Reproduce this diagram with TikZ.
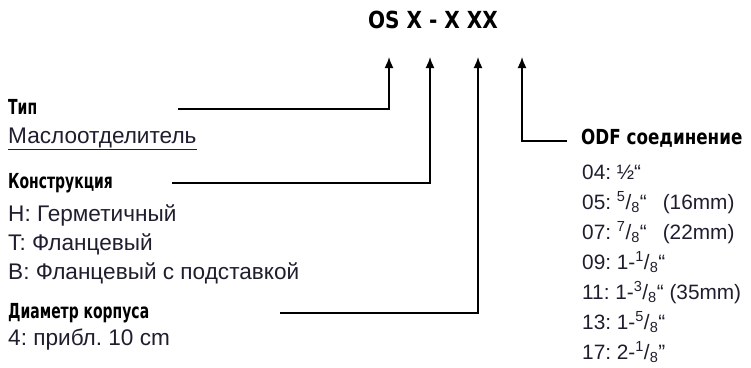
\documentclass[tikz,border=0pt]{standalone}
\usepackage{fontspec}
\setmainfont{Liberation Sans}
\newfontfamily\headfont[FakeStretch=0.75]{DejaVu Sans Condensed Bold}
\newfontfamily\headfontwide[FakeStretch=0.9]{DejaVu Sans Condensed Bold}
\newfontfamily\codefont[FakeStretch=0.95]{DejaVu Sans Condensed Bold}
\usetikzlibrary{arrows.meta}
\definecolor{txtcol}{HTML}{1E1E2E}
\tikzset{
  head/.style={anchor=base west, inner sep=0pt, font=\headfont\fontsize{20.7}{20.7}\selectfont},
  item/.style={anchor=base west, inner sep=0pt, text=txtcol, font=\fontsize{22.6}{22.6}\selectfont},
  itemr/.style={item, font=\fontsize{20.8}{20.8}\selectfont},
  lead/.style={line width=1.6pt},
}
\frenchspacing
\begin{document}
\begin{tikzpicture}[x=1pt, y=-1pt, >={Latex[length=11pt,width=9pt]}]
        \useasboundingbox (0,0) rectangle (751,367);
        % 1. Kod
        \node[anchor=base, inner sep=0pt, font=\codefont\fontsize{23.5}{23.5}\selectfont] (code) at (433,28) {OS X - X XX};
        \coordinate (p1) at (389,57);
        \coordinate (p2) at (430,57);
        \coordinate (p3) at (478,57);
        \coordinate (p4) at (522,57);

        % 2. Tip
        \node[head] (typ) at (8,114) {Тип};
        \node[item] (typval) at (8,143) {\underline{Маслоотделитель}};
        \coordinate (l1) at (178,109);
        \draw[lead, ->] (l1) -| (p1);

        % 3. Konstrukcija
        \node[head] (kon) at (8,188) {Конструкция};
        \node[item] (kon1) at (8,221) {H: Герметичный};
        \node[item] (kon2) at (8,250) {T: Фланцевый};
        \node[item] (kon3) at (8,279) {B: Фланцевый с подставкой};
        \coordinate (l2) at (172,183);
        \draw[lead, ->] (l2) -| (p2);

        % 4. Diametr
        \node[head] (diam) at (8,318) {Диаметр корпуса};
        \node[item] (diam1) at (8,345) {4: прибл. 10 cm};
        \coordinate (l3) at (280,313);
        \draw[lead, ->] (l3) -| (p3);

        % 5. ODF
        \node[head, font=\headfontwide\fontsize{20.7}{20.7}\selectfont] (odf) at (581,144) {ODF соединение};
        \coordinate (l4) at (567,141);
        \draw[lead, ->] (l4) -| (p4);
        \node[itemr] (odf1) at (582,179) {04: ½“};
        \node[itemr] (odf2) at (582,209) {05: \textsuperscript{5}/\textsubscript{8}“\hspace{16pt}(16mm)};
        \node[itemr] (odf3) at (582,239) {07: \textsuperscript{7}/\textsubscript{8}“\hspace{16pt}(22mm)};
        \node[itemr] (odf4) at (582,269) {09: 1-\textsuperscript{1}/\textsubscript{8}“};
        \node[itemr] (odf5) at (582,299) {11: 1-\textsuperscript{3}/\textsubscript{8}“ (35mm)};
        \node[itemr] (odf6) at (582,329) {13: 1-\textsuperscript{5}/\textsubscript{8}“};
        \node[itemr] (odf7) at (582,359) {17: 2-\textsuperscript{1}/\textsubscript{8}”};
\end{tikzpicture}
\end{document}
